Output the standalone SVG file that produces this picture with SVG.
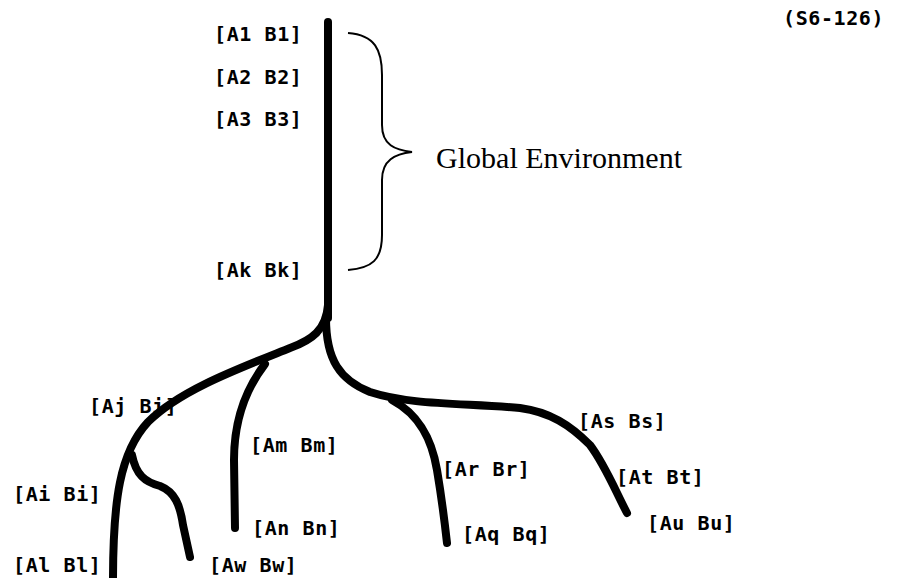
<svg xmlns="http://www.w3.org/2000/svg" width="898" height="578" viewBox="0 0 898 578">
<style>
.lbl{font-family:"DejaVu Sans Mono","Liberation Mono",monospace;font-weight:bold;font-size:20px;letter-spacing:0.6px;fill:#000}
.br{fill:none;stroke:#000;stroke-width:8;stroke-linecap:round;stroke-linejoin:round}
.brace{fill:none;stroke:#000;stroke-width:2}
.serif{font-family:"Liberation Serif","Times New Roman",serif;font-size:29px;fill:#000}
</style>
<rect width="898" height="578" fill="#fff"/>
<g id="connectors">
<path class="br" d="M328,22 L328,318"/>
<path class="br" d="M328,305 C326,330 312,340 290,348 C240,368 180,390 148,422 C120,452 113,500 113,580"/>
<path class="br" d="M265,364 C245,390 234,420 234,460 L235,528"/>
<path class="br" d="M132,455 C136,475 145,482 160,486 C175,492 180,505 183,525 L190,557"/>
<path class="br" d="M326,318 C326,360 340,380 370,392 C410,405 460,403 520,408 C550,412 570,425 590,445 C605,465 615,490 627,513"/>
<path class="br" d="M392,400 C420,415 432,440 437,470 C442,500 445,525 447,543"/>
<path class="brace" d="M348,33 C375,35 382,50 382,75 L382,125 C382,145 395,150 412,152 C395,154 382,160 382,180 L382,235 C382,260 372,268 348,270"/>
</g>
<g id="global"><text class="serif" x="436" y="168" textLength="246" lengthAdjust="spacingAndGlyphs">Global Environment</text></g>
<g id="ref"><text class="lbl" x="783" y="25">(S6-126)</text></g>
<g id="n-a1"><text class="lbl" x="214" y="41">[A1 B1]</text></g>
<g id="n-a2"><text class="lbl" x="214" y="84">[A2 B2]</text></g>
<g id="n-a3"><text class="lbl" x="214" y="126">[A3 B3]</text></g>
<g id="n-ak"><text class="lbl" x="214" y="277">[Ak Bk]</text></g>
<g id="n-aj"><text class="lbl" x="89" y="413">[Aj Bi]</text></g>
<g id="n-am"><text class="lbl" x="250" y="452">[Am Bm]</text></g>
<g id="n-ai"><text class="lbl" x="13" y="501">[Ai Bi]</text></g>
<g id="n-an"><text class="lbl" x="252" y="535">[An Bn]</text></g>
<g id="n-al"><text class="lbl" x="13" y="572">[Al Bl]</text></g>
<g id="n-aw"><text class="lbl" x="209" y="572">[Aw Bw]</text></g>
<g id="n-ar"><text class="lbl" x="442" y="476">[Ar Br]</text></g>
<g id="n-aq"><text class="lbl" x="462" y="541">[Aq Bq]</text></g>
<g id="n-as"><text class="lbl" x="578" y="428">[As Bs]</text></g>
<g id="n-at"><text class="lbl" x="616" y="484">[At Bt]</text></g>
<g id="n-au"><text class="lbl" x="647" y="530">[Au Bu]</text></g>
</svg>
